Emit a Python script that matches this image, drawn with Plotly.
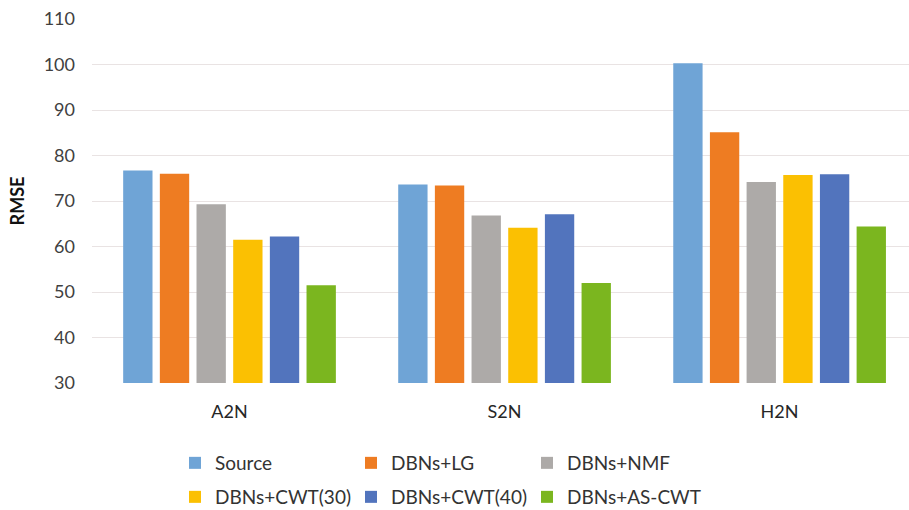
import plotly.graph_objects as go

# Test cases on the x axis
categories = ["A2N", "S2N", "H2N"]

# RMSE of each method per test case
series_names = ["Source", "DBNs+LG", "DBNs+NMF", "DBNs+CWT(30)", "DBNs+CWT(40)", "DBNs+AS-CWT"]
source = [76.7, 73.6, 100.3]
dbns_lg = [76.0, 73.4, 85.1]
dbns_nmf = [69.3, 66.8, 74.2]
dbns_cwt30 = [61.5, 64.1, 75.7]
dbns_cwt40 = [62.2, 67.1, 75.9]
dbns_as_cwt = [51.5, 52.0, 64.4]

y_ticks = [30, 40, 50, 60, 70, 80, 90, 100, 110]

series_values = [source, dbns_lg, dbns_nmf, dbns_cwt30, dbns_cwt40, dbns_as_cwt]
colors = ["#6FA4D6", "#EE7C22", "#ADAAA8", "#FBC002", "#5274BD", "#7BB61F"]

FONT = "Lato, 'Open Sans', sans-serif"

fig = go.Figure()
for i, (name, vals, col) in enumerate(zip(series_names, series_values, colors)):
    fig.add_trace(go.Bar(
        name=name,
        x=categories,
        y=vals,
        marker=dict(color=col, line=dict(width=0)),
        # first three series in the upper legend row, the rest in the lower row
        legend="legend" if i < 3 else "legend2",
    ))

legend_common = dict(
    orientation="h",
    xref="container",
    yref="container",
    xanchor="left",
    yanchor="middle",
    entrywidth=131,
    entrywidthmode="pixels",
    font=dict(size=19, color="#333333"),
    itemsizing="constant",
    traceorder="normal",
    bgcolor="rgba(0,0,0,0)",
)

fig.update_layout(
    width=909,
    height=510,
    margin=dict(l=92, r=0, t=19, b=127),
    paper_bgcolor="white",
    plot_bgcolor="white",
    barmode="group",
    bargap=0.2,
    bargroupgap=0.2,
    font=dict(family=FONT, color="#404040", size=18),
    xaxis=dict(
        type="category",
        range=[-0.5, 2.4705],
        showgrid=False,
        showline=False,
        zeroline=False,
        ticks="",
        tickfont=dict(size=18, color="#262626"),
        ticklabelstandoff=16,
    ),
    yaxis=dict(
        range=[30, 110],
        tickvals=y_ticks,
        showgrid=True,
        gridcolor="#E9E3E3",
        gridwidth=1,
        zeroline=False,
        showline=False,
        ticks="",
        ticklabelstandoff=16,
        tickfont=dict(size=18, color="#404040"),
        title=dict(text="<b>RMSE</b>", font=dict(size=18, color="#111111"), standoff=14),
    ),
    legend=dict(legend_common, x=175 / 909, y=(510 - 463) / 510),
    legend2=dict(legend_common, x=175 / 909, y=(510 - 497) / 510),
    showlegend=True,
)

fig.write_html("out.html")
